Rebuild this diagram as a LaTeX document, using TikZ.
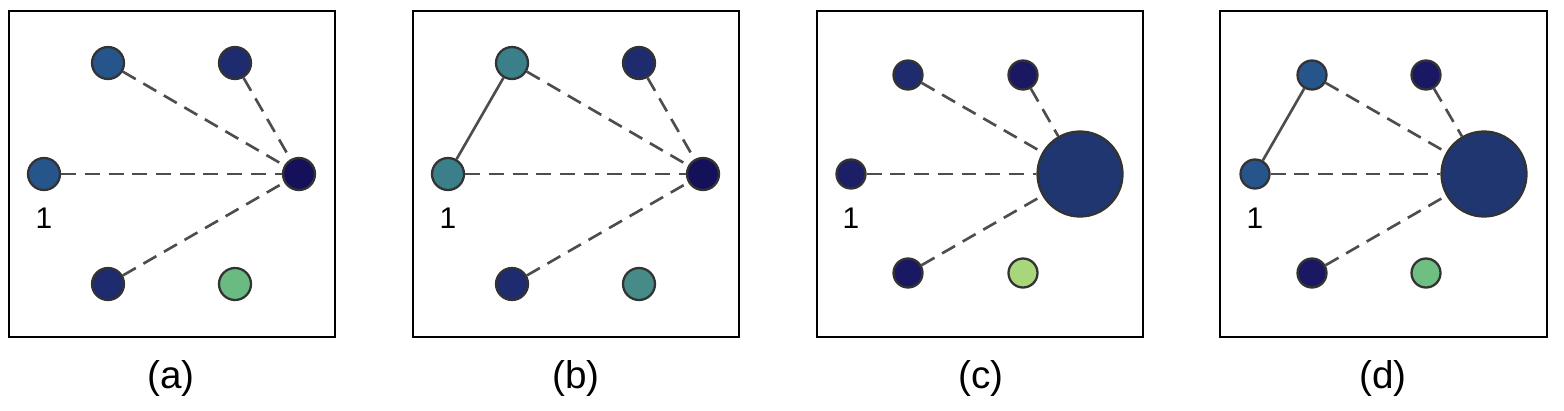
\documentclass[tikz,border=0pt]{standalone}
\usepackage{fontspec}
\setmainfont{Liberation Sans}
\usetikzlibrary{positioning}
\definecolor{steel}{HTML}{25558A}
\definecolor{navy}{HTML}{1E2B6E}
\definecolor{ink}{HTML}{15105A}
\definecolor{mint}{HTML}{6ABB82}
\definecolor{teal}{HTML}{3B7F8A}
\definecolor{seagreen}{HTML}{468B87}
\definecolor{indigo}{HTML}{1C1E66}
\definecolor{deepnavy}{HTML}{1A1763}
\definecolor{hubblue}{HTML}{1F3670}
\definecolor{lime}{HTML}{A8D67A}
\definecolor{leaf}{HTML}{70BF82}
\definecolor{edgegray}{HTML}{4D4D4D}

\begin{document}
\begin{tikzpicture}[x=0.02cm, y=-0.02cm,
    agent/.style={circle, draw=black!80, line width=1.3pt, inner sep=0pt, minimum size=0.64cm},
    small/.style={agent, minimum size=0.58cm},
    hub/.style={agent, minimum size=1.7cm},
    link/.style={draw=edgegray, line width=1.5pt, dash pattern=on 8.5pt off 5pt},
    tie/.style={draw=edgegray, line width=1.5pt},
    panel/.style={draw, line width=1.2pt},
    caption/.style={inner sep=0pt, font=\fontsize{17}{20}\selectfont},
    tag/.style={inner sep=0pt, font=\fontsize{22}{26}\selectfont}]

    \useasboundingbox (0,0) rectangle (1564,410);

    % (a)
    \draw[panel] (9,11) rectangle (335,337);
    \node[agent, fill=steel] (a1) at (44,174) {};
    \node[agent, fill=steel] (a2) at (108,63) {};
    \node[agent, fill=navy] (a3) at (235,63) {};
    \node[agent, fill=ink] (a4) at (299,174) {};
    \node[agent, fill=navy] (a5) at (108,284) {};
    \node[agent, fill=mint] (a6) at (235,284) {};
    \node[caption, below=0.32cm of a1] (a1lbl) {1};
    \draw[link] (a1) -- (a4);
    \draw[link] (a2) -- (a4);
    \draw[link] (a3) -- (a4);
    \draw[link] (a5) -- (a4);
    \node[tag] (capa) at (171,378) {(a)};

    % (b)
    \draw[panel] (413,11) rectangle (739,337);
    \node[agent, fill=teal] (b1) at (448,174) {};
    \node[agent, fill=teal] (b2) at (512,63) {};
    \node[agent, fill=navy] (b3) at (639,63) {};
    \node[agent, fill=ink] (b4) at (703,174) {};
    \node[agent, fill=navy] (b5) at (512,284) {};
    \node[agent, fill=seagreen] (b6) at (639,284) {};
    \node[caption, below=0.32cm of b1] (b1lbl) {1};
    \draw[tie] (b1) -- (b2);
    \draw[link] (b1) -- (b4);
    \draw[link] (b2) -- (b4);
    \draw[link] (b3) -- (b4);
    \draw[link] (b5) -- (b4);
    \node[tag] (capb) at (576,378) {(b)};

    % (c)
    \draw[panel] (817,11) rectangle (1143,337);
    \node[small, fill=indigo] (c1) at (851,174) {};
    \node[small, fill=navy] (c2) at (908,75) {};
    \node[small, fill=deepnavy] (c3) at (1023,75) {};
    \node[hub, fill=hubblue] (c4) at (1080,174) {};
    \node[small, fill=deepnavy] (c5) at (908,273) {};
    \node[small, fill=lime] (c6) at (1023,273) {};
    \node[caption, below=0.36cm of c1] (c1lbl) {1};
    \draw[link] (c1) -- (c4);
    \draw[link] (c2) -- (c4);
    \draw[link] (c3) -- (c4);
    \draw[link] (c5) -- (c4);
    \node[tag] (capc) at (981,378) {(c)};

    % (d)
    \draw[panel] (1220,11) rectangle (1547,337);
    \node[small, fill=steel] (d1) at (1255,174) {};
    \node[small, fill=steel] (d2) at (1312,75) {};
    \node[small, fill=deepnavy] (d3) at (1426,75) {};
    \node[hub, fill=hubblue] (d4) at (1484,174) {};
    \node[small, fill=deepnavy] (d5) at (1312,273) {};
    \node[small, fill=leaf] (d6) at (1426,273) {};
    \node[caption, below=0.36cm of d1] (d1lbl) {1};
    \draw[tie] (d1) -- (d2);
    \draw[link] (d1) -- (d4);
    \draw[link] (d2) -- (d4);
    \draw[link] (d3) -- (d4);
    \draw[link] (d5) -- (d4);
    \node[tag] (capd) at (1383,378) {(d)};
\end{tikzpicture}
\end{document}
